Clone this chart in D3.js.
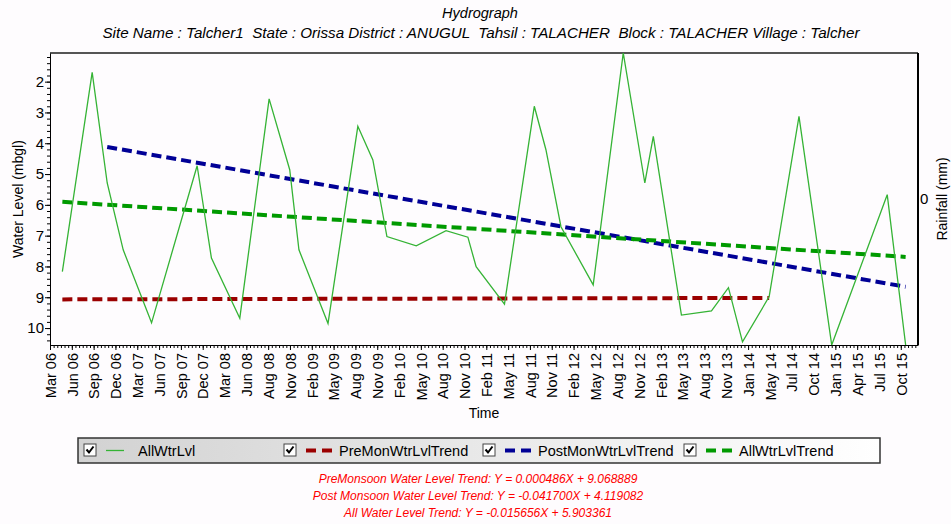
<!DOCTYPE html>
<html>
<head>
<meta charset="utf-8">
<script src="https://cdn.jsdelivr.net/npm/d3@7"></script>
<style>
  body { margin: 0; background: #fefcfe; }
  svg { display: block; font-family: "Liberation Sans", Arial, sans-serif; }
</style>
</head>
<body>
<div id="chart"></div>
<script>
// observation dates and water level (mbgl)
const obsDates = [
  "2006-05-05", "2006-09-05", "2006-11-06", "2007-01-11", "2007-05-08", "2007-11-12",
  "2008-01-10", "2008-05-06", "2008-09-04", "2008-11-28", "2009-01-05", "2009-05-05",
  "2009-09-05", "2009-11-06", "2010-01-03", "2010-05-04", "2010-09-04", "2010-12-03",
  "2011-01-06", "2011-05-03", "2011-09-03", "2011-10-21", "2011-12-22", "2012-05-03",
  "2012-09-04", "2012-12-02", "2013-01-06", "2013-05-02", "2013-09-03", "2013-11-12",
  "2014-01-09", "2014-04-29", "2014-08-30", "2015-01-12", "2015-08-29", "2015-11-13"
];
const allWtrLvl = [
  8.17, 1.70, 5.29, 7.46, 9.83, 4.73,
  7.73, 9.68, 2.56, 4.86, 7.46, 9.85,
  3.45, 4.54, 7.03, 7.33, 6.84, 7.05,
  8.01, 9.22, 2.80, 4.21, 6.71, 8.60,
  1.07, 5.29, 3.78, 9.58, 9.44, 8.69,
  10.45, 8.98, 3.13, 10.55, 5.67, 10.55
];

// trend lines: start/end dates and levels
const preTrendDates = ["2006-05-05", "2014-04-29"];
const preTrendVals = [9.069, 9.022];
const postTrendDates = ["2006-11-06", "2015-11-13"];
const postTrendVals = [4.12, 8.66];
const allTrendDates = ["2006-05-05", "2015-11-13"];
const allTrendVals = [5.90, 7.69];

const tickLabels = [
  "Mar 06", "Jun 06", "Sep 06", "Dec 06", "Mar 07", "Jun 07", "Sep 07", "Dec 07",
  "Mar 08", "Jun 08", "Aug 08", "Nov 08", "Feb 09", "May 09", "Aug 09", "Nov 09",
  "Feb 10", "May 10", "Aug 10", "Nov 10", "Feb 11", "May 11", "Aug 11", "Nov 11",
  "Feb 12", "May 12", "Aug 12", "Nov 12", "Feb 13", "May 13", "Aug 13", "Nov 13",
  "Jan 14", "May 14", "Jul 14", "Oct 14", "Jan 15", "Apr 15", "Jul 15", "Oct 15"
];
const yTicks = [2, 3, 4, 5, 6, 7, 8, 9, 10];

const equations = [
  "PreMonsoon Water Level Trend: Y = 0.000486X + 9.068889",
  "Post Monsoon Water Level Trend: Y = -0.041700X + 4.119082",
  "All Water Level Trend: Y = -0.015656X + 5.903361"
];

const width = 951, height = 524;
const margin = { top: 53, right: 33, bottom: 179, left: 50 };
const plotW = width - margin.left - margin.right;
const plotH = height - margin.top - margin.bottom;

const parse = d3.timeParse("%Y-%m-%d");
const axisStart = parse("2006-03-15");
const axisEnd = parse("2016-01-03");

const svg = d3.select("#chart").append("svg")
  .attr("width", width)
  .attr("height", height);

const x = d3.scaleTime().domain([axisStart, axisEnd]).range([0, plotW]);
const y = d3.scaleLinear().domain(d3.extent(allWtrLvl)).range([0, plotH]);
const rain = d3.scaleLinear().domain([-1, 1]).range([plotH, 0]);

const g = svg.append("g").attr("transform", `translate(${margin.left},${margin.top})`);

// titles
svg.append("text").attr("x", 480).attr("y", 18).attr("text-anchor", "middle")
  .attr("font-size", 14.5).attr("font-style", "italic").text("Hydrograph");
svg.append("text").attr("x", 481).attr("y", 38).attr("text-anchor", "middle")
  .attr("font-size", 15.2).attr("font-style", "italic")
  .attr("xml:space", "preserve")
  .text("Site Name : Talcher1  State : Orissa District : ANUGUL  Tahsil : TALACHER  Block : TALACHER Village : Talcher");

// plot frame
g.append("rect").attr("width", plotW).attr("height", plotH).attr("fill", "#fefcfe");
g.append("line").attr("x1", 0).attr("x2", plotW).attr("y1", 0).attr("y2", 0)
  .attr("stroke", "#555").attr("stroke-width", 2);
g.append("line").attr("x1", plotW).attr("x2", plotW).attr("y1", 0).attr("y2", plotH)
  .attr("stroke", "#000").attr("stroke-width", 2);

// x axis
const tickDates = tickLabels.map((d, i) => d3.timeDay.offset(axisStart, i * 90));
const minorDates = d3.range(0, 3580, 15).map(i => d3.timeDay.offset(axisStart, i))
  .filter(d => d <= axisEnd);

g.append("g").attr("transform", `translate(0,${plotH})`)
  .call(d3.axisBottom(x).tickValues(minorDates).tickSize(3).tickFormat(""))
  .call(a => a.select(".domain").remove());

const xAxis = g.append("g").attr("transform", `translate(0,${plotH})`)
  .call(d3.axisBottom(x).tickValues(tickDates).tickSize(5).tickSizeOuter(0)
    .tickFormat((d, i) => tickLabels[i]));
xAxis.selectAll("text")
  .attr("transform", "rotate(-90)")
  .attr("text-anchor", "end")
  .attr("x", -8).attr("y", 0).attr("dy", "0.36em")
  .attr("font-size", 14.5).attr("fill", "#000")
  .style("font-family", "Liberation Sans, Arial, sans-serif");

svg.append("text").attr("x", 484).attr("y", 418).attr("text-anchor", "middle")
  .attr("font-size", 14).text("Time");

// y axis
const yMinor = d3.range(12, 106, 2).map(v => v / 10);
g.append("g")
  .call(d3.axisLeft(y).tickValues(yMinor).tickSize(3).tickFormat(""))
  .call(a => a.select(".domain").remove());
const yAxis = g.append("g")
  .call(d3.axisLeft(y).tickValues(yTicks).tickSize(5).tickSizeOuter(0));
yAxis.selectAll("text").attr("font-size", 15).attr("x", -6).attr("fill", "#000")
  .style("font-family", "Liberation Sans, Arial, sans-serif");

svg.append("text")
  .attr("transform", `translate(23,${margin.top + plotH / 2}) rotate(-90)`)
  .attr("text-anchor", "middle").attr("font-size", 14).text("Water Level (mbgl)");

// rainfall axis (no data)
const rAxis = g.append("g").attr("transform", `translate(${plotW},0)`)
  .call(d3.axisRight(rain).tickValues([0]).tickSize(0).tickSizeOuter(0)
    .tickFormat(d3.format("d")));
rAxis.select(".domain").remove();
rAxis.selectAll("text").attr("font-size", 15).attr("x", 2).attr("fill", "#000")
  .style("font-family", "Liberation Sans, Arial, sans-serif");
svg.append("text")
  .attr("transform", `translate(947,${margin.top + plotH / 2}) rotate(-90)`)
  .attr("text-anchor", "middle").attr("font-size", 14).text("Rainfall (mm)");

// series
g.append("clipPath").attr("id", "plotClip")
  .append("rect").attr("width", plotW).attr("height", plotH + 1);
const lineGen = d3.line().x(d => x(d[0])).y(d => y(d[1]));
const plot = g.append("g").attr("clip-path", "url(#plotClip)");

function pairs(dates, vals) {
  return dates.map((d, i) => [parse(d), vals[i]]);
}

plot.append("path")
  .datum(pairs(preTrendDates, preTrendVals))
  .attr("d", lineGen).attr("fill", "none")
  .attr("stroke", "#9b0000").attr("stroke-width", 4).attr("stroke-dasharray", "10,5");
plot.append("path")
  .datum(pairs(postTrendDates, postTrendVals))
  .attr("d", lineGen).attr("fill", "none")
  .attr("stroke", "#000096").attr("stroke-width", 4).attr("stroke-dasharray", "10,5");
plot.append("path")
  .datum(pairs(allTrendDates, allTrendVals))
  .attr("d", lineGen).attr("fill", "none")
  .attr("stroke", "#009a00").attr("stroke-width", 4).attr("stroke-dasharray", "10,5");
plot.append("path")
  .datum(pairs(obsDates, allWtrLvl))
  .attr("d", lineGen).attr("fill", "none")
  .attr("stroke", "#35b335").attr("stroke-width", 1.3);

// legend
const defs = svg.append("defs");
const grad = defs.append("linearGradient").attr("id", "legGrad");
grad.append("stop").attr("offset", "0%").attr("stop-color", "#d2d2d2");
grad.append("stop").attr("offset", "100%").attr("stop-color", "#ffffff");

const legend = svg.append("g").attr("transform", "translate(78,438)");
legend.append("rect").attr("width", 802).attr("height", 25)
  .attr("fill", "url(#legGrad)").attr("stroke", "#333").attr("stroke-width", 1.5);

const legendItems = [
  { name: "AllWtrLvl", color: "#35b335", dashed: false, box: 6, text: 60 },
  { name: "PreMonWtrLvlTrend", color: "#9b0000", dashed: true, box: 206, text: 261 },
  { name: "PostMonWtrLvlTrend", color: "#000096", dashed: true, box: 405, text: 460 },
  { name: "AllWtrLvlTrend", color: "#009a00", dashed: true, box: 606, text: 661 }
];

const item = legend.selectAll("g.item").data(legendItems).enter()
  .append("g").attr("class", "item");
item.append("rect").attr("x", d => d.box).attr("y", 6).attr("width", 12).attr("height", 12)
  .attr("fill", "#fff").attr("stroke", "#444").attr("stroke-width", 1);
item.append("path")
  .attr("d", d => `M${d.box + 2.5},11.5 L${d.box + 5},14.5 L${d.box + 9.5},8.5`)
  .attr("fill", "none").attr("stroke", "#000").attr("stroke-width", 2);
item.append("line")
  .attr("x1", d => d.box + 22)
  .attr("x2", d => d.dashed ? d.box + 48 : d.box + 40)
  .attr("y1", 12.5).attr("y2", 12.5)
  .attr("stroke", d => d.color)
  .attr("stroke-width", d => d.dashed ? 4 : 1.3)
  .attr("stroke-dasharray", d => d.dashed ? "10,6" : null);
item.append("text").attr("x", d => d.text).attr("y", 17.5)
  .attr("font-size", 14.5).text(d => d.name);

// trend equations
svg.append("g").selectAll("text").data(equations).enter()
  .append("text")
  .attr("x", 478).attr("y", (d, i) => 483 + i * 17)
  .attr("text-anchor", "middle")
  .attr("font-size", 12).attr("font-style", "italic")
  .attr("fill", "#ff0000")
  .text(d => d);
</script>
</body>
</html>
